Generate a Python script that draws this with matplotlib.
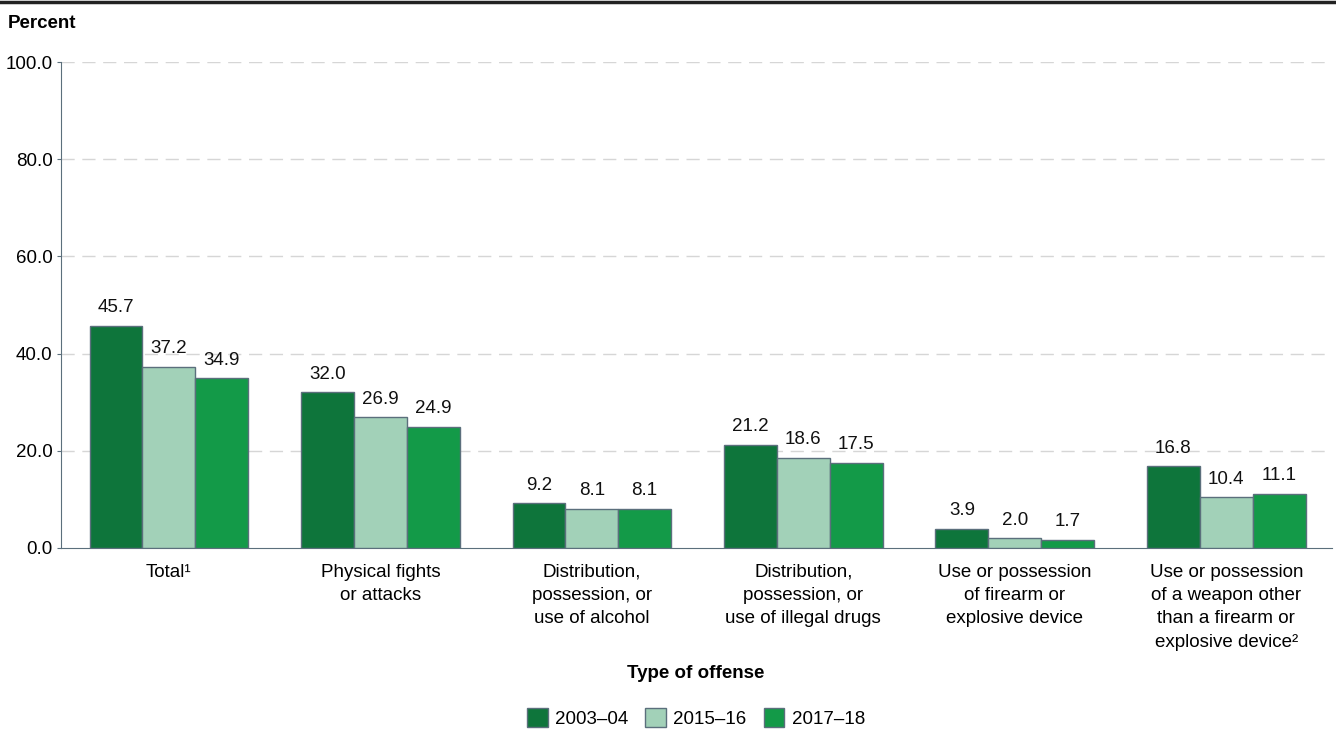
import matplotlib
matplotlib.use("Agg")
import matplotlib.pyplot as plt
import numpy as np
from matplotlib.patches import Patch
from matplotlib.lines import Line2D

plt.rcParams['font.family'] = ['Liberation Sans', 'DejaVu Sans']

categories = ["Total\u00b9", "Physical fights\nor attacks", "Distribution,\npossession, or\nuse of alcohol",
              "Distribution,\npossession, or\nuse of illegal drugs", "Use or possession\nof firearm or\nexplosive device",
              "Use or possession\nof a weapon other\nthan a firearm or\nexplosive device\u00b2"]
series_names = ["2003\u201304", "2015\u201316", "2017\u201318"]
v2003 = [45.7, 32.0, 9.2, 21.2, 3.9, 16.8]
v2015 = [37.2, 26.9, 8.1, 18.6, 2.0, 10.4]
v2017 = [34.9, 24.9, 8.1, 17.5, 1.7, 11.1]
yticks = [0, 20, 40, 60, 80, 100]

colors = ["#0E753B", "#A2D1B8", "#139A48"]
edge = "#5B6F7C"
FS = 13.5

fig = plt.figure(figsize=(13.36, 7.32), dpi=100)
ax = fig.add_axes([61/1336, 1 - 548/732, (1332-61)/1336, (548-62)/732])

x = np.arange(len(categories))
w = 0.25
for i, vals in enumerate([v2003, v2015, v2017]):
    bars = ax.bar(x + (i - 1) * w, vals, w, color=colors[i], edgecolor=edge, linewidth=1.0, zorder=3)
    for b, v in zip(bars, vals):
        ax.text(b.get_x() + b.get_width() / 2, v + 2.0, f"{v:.1f}", ha="center", va="bottom",
                fontsize=FS, color="#111111")

ax.set_xlim(-0.51, len(categories) - 0.5)
ax.set_ylim(0, 100)
ax.set_yticks(yticks)
ax.set_yticklabels([f"{t:.1f}" for t in yticks], fontsize=FS)
ax.set_xticks(x)
ax.set_xticklabels(categories, fontsize=FS, va="top", linespacing=1.48)
ax.tick_params(axis="x", length=0, pad=11.5)
ax.tick_params(axis="y", length=3, color=edge, pad=3)
for t in yticks[1:]:
    ax.axhline(t, color="#D6D6D6", linestyle=(0, (9.5, 5.5)), linewidth=1.0, zorder=1)
for s in ["top", "right"]:
    ax.spines[s].set_visible(False)
ax.spines["left"].set_color(edge)
ax.spines["bottom"].set_color(edge)

fig.add_artist(Line2D([0, 1], [1 - 2/732, 1 - 2/732], color="#222222", linewidth=2.5))
fig.text(8/1336, 1 - 23/732, "Percent", fontsize=FS, fontweight="bold", va="center", ha="left")
fig.text(696/1336, 1 - 674/732, "Type of offense", fontsize=FS, fontweight="bold", va="center", ha="center")

handles = [Patch(facecolor=c, edgecolor=edge, label=n) for c, n in zip(colors, series_names)]
fig.legend(handles=handles, loc="center", bbox_to_anchor=(696/1336, 1 - 718/732), ncol=3, frameon=False,
           fontsize=FS, handlelength=1.1, handleheight=1.2, handletextpad=0.4, columnspacing=0.9)

fig.savefig("out.png", dpi=100)
